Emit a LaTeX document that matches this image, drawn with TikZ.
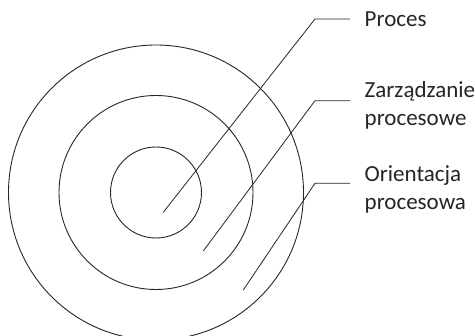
\documentclass[tikz,border=0pt]{standalone}
\usepackage{fontspec}
\setmainfont{Carlito}
\usetikzlibrary{calc}
\tikzset{
  ring/.style={circle, draw=black!85, line width=0.9pt, inner sep=0pt, outer sep=0pt},
  leader/.style={draw=black!85, line width=0.8pt},
  lbl/.style={anchor=base west, inner sep=0pt, align=left, text=black!85,
              font=\fontsize{23}{28}\selectfont}
}
\begin{document}
\begin{tikzpicture}[x=1pt, y=-1pt]
\clip (0,0) rectangle (475,336);
\fill[white] (0,0) rectangle (475,336);
% circles
\node[ring, minimum size=91pt] (c1) at (156,192.5) {};
\node[ring, minimum size=194pt] (c2) at (156,192.5) {};
\node[ring, minimum size=295pt] (c3) at (156,192.5) {};
% labels (base = baseline of last line)
\node[lbl] (t1) at (364.5,26.7) {Proces};
\node[lbl] (t2) at (364.5,125.7) {Zarządzanie\\procesowe};
\node[lbl] (t3) at (364.5,209.7) {Orientacja\\procesowa};
% leader points
\coordinate (s1) at (163.3,212.3);
\coordinate (k1) at (315,19);
\coordinate (s2) at (203.3,251);
\coordinate (k2) at (315,100.7);
\coordinate (s3) at (243.3,290);
\coordinate (k3) at (315,183.3);
\draw[leader] (s1) -- (k1) -- ($(k1 -| t1.west)+(-14.5,0)$);
\draw[leader] (s2) -- (k2) -- ($(k2 -| t2.west)+(-14.5,0)$);
\draw[leader] (s3) -- (k3) -- ($(k3 -| t3.west)+(-14.5,0)$);
\end{tikzpicture}
\end{document}
